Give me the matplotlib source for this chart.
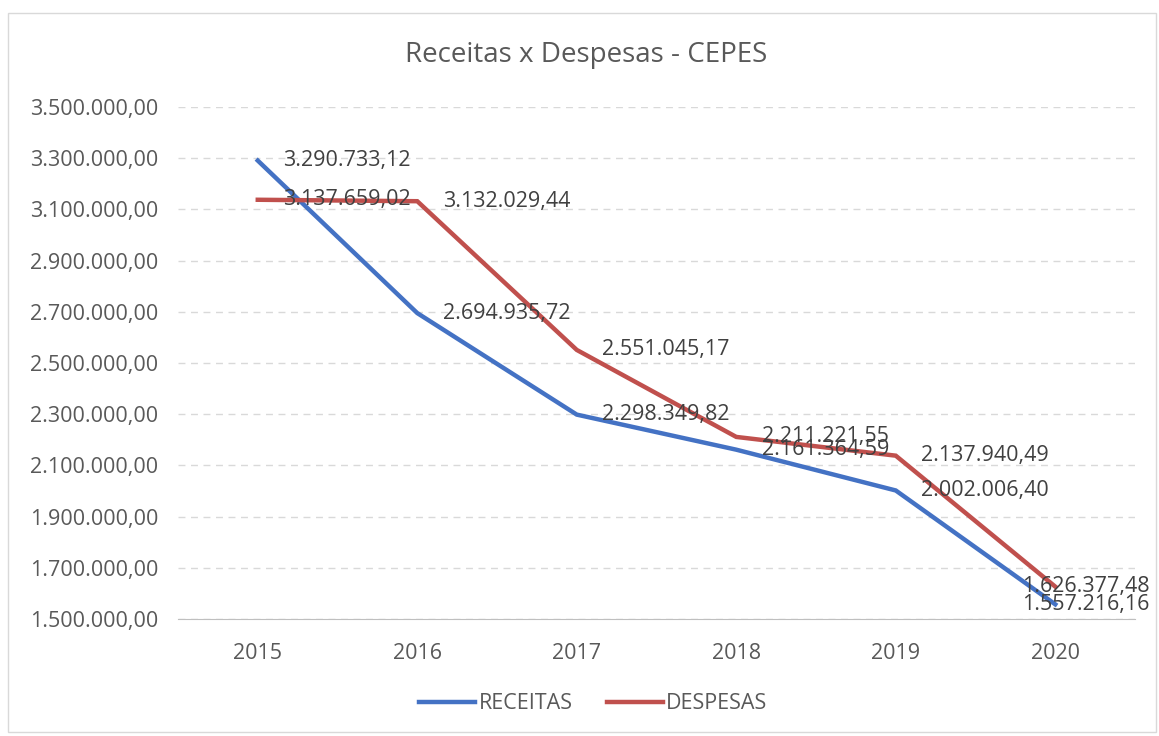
import matplotlib
matplotlib.use("Agg")
import matplotlib.pyplot as plt
from matplotlib.patches import Rectangle

years = ["2015", "2016", "2017", "2018", "2019", "2020"]
receitas = [3290733.12, 2694935.72, 2298349.82, 2161364.59, 2002006.40, 1557216.16]
despesas = [3137659.02, 3132029.44, 2551045.17, 2211221.55, 2137940.49, 1626377.48]
yticks = [1500000, 1700000, 1900000, 2100000, 2300000, 2500000, 2700000, 2900000, 3100000, 3300000, 3500000]

def br(v):
    s = f"{v:,.2f}"
    return s.replace(",", "X").replace(".", ",").replace("X", ".")

plt.rcParams['font.family'] = ['Open Sans', 'DejaVu Sans']
txt = '#595959'
blue = '#4472C4'
red = '#C0504D'

fig = plt.figure(figsize=(11.59, 7.36), dpi=100)
fig.patches.append(Rectangle((0.007, 0.005), 0.99, 0.978, transform=fig.transFigure,
                             fill=False, edgecolor='#D9D9D9', linewidth=1))
ax = fig.add_axes([0.1536, 0.159, 0.8257, 0.6956])
x = list(range(len(years)))
ax.plot(x, receitas, color=blue, lw=3.2, label='RECEITAS', solid_joinstyle='miter')
ax.plot(x, despesas, color=red, lw=3.2, label='DESPESAS', solid_joinstyle='miter')

ax.set_xlim(-0.5, 5.5)
ax.set_ylim(1500000, 3500000)
ax.set_yticks(yticks)
ax.set_yticklabels([br(v) for v in yticks])
ax.set_xticks(x)
ax.set_xticklabels(years)
ax.tick_params(axis='both', length=0, colors=txt, labelsize=15.5)
ax.tick_params(axis='x', pad=17)
ax.tick_params(axis='y', pad=14)
for s in ['top', 'right', 'left']:
    ax.spines[s].set_visible(False)
ax.spines['bottom'].set_color('#BFBFBF')
ax.grid(axis='y', color='#D9D9D9', linestyle=(0, (5, 4)), lw=1)
ax.set_axisbelow(True)

for i, (r, d) in enumerate(zip(receitas, despesas)):
    xo = 0.16 if i < 5 else -0.21
    ax.text(i + xo, r, br(r), color='#404040', fontsize=15.5, va='center', ha='left')
    ax.text(i + xo, d, br(d), color='#404040', fontsize=15.5, va='center', ha='left')

fig.text(0.506, 0.925, 'Receitas x Despesas - CEPES', ha='center', va='center',
         color=txt, fontsize=20)
leg = fig.legend(loc='center', bbox_to_anchor=(0.512, 0.044), ncol=2, frameon=False,
                 fontsize=15.5, handlelength=2.6, handletextpad=0.15, columnspacing=1.6)
for t in leg.get_texts():
    t.set_color(txt)

fig.savefig('out.png', dpi=100)
